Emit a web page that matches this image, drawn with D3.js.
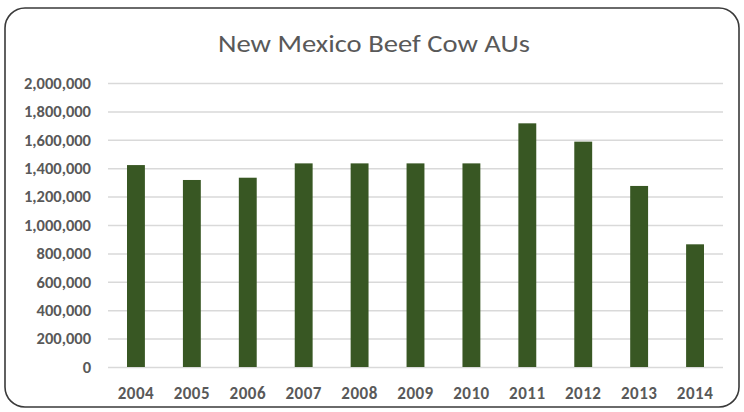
<!DOCTYPE html>
<html><head><meta charset="utf-8">
<script src="https://cdn.jsdelivr.net/npm/d3@7"></script>
<style>body{margin:0;background:#fff}svg{display:block}</style>
</head><body>
<svg id="c" width="744" height="412"></svg>
<script>
const years = ["2004","2005","2006","2007","2008","2009","2010","2011","2012","2013","2014"];
const beefCowAUs = [1422000,1317000,1333000,1434000,1434000,1434000,1434000,1716000,1587000,1275000,864000];
const yTicks = [0,200000,400000,600000,800000,1000000,1200000,1400000,1600000,1800000,2000000];
const title = "New Mexico Beef Cow AUs";

const svg = d3.select("#c");
const W = 744, H = 412;
const m = {left:108, right:21, top:83, bottom:45};
const font = "Carlito, Calibri, 'Open Sans', 'Noto Sans', sans-serif";

svg.append("rect").attr("x",5).attr("y",8).attr("width",734).attr("height",399)
  .attr("rx",20).attr("ry",20).attr("fill","#fff").attr("stroke","#3a3a3a").attr("stroke-width",1.6);

const x = d3.scaleBand().domain(years).range([m.left, W-m.right]).paddingInner(0.68).paddingOuter(0.34);
const y = d3.scaleLinear().domain([0,2000000]).range([H-m.bottom, m.top]);

const gy = svg.append("g").attr("transform",`translate(${m.left},0)`)
  .call(d3.axisLeft(y).tickValues(yTicks).tickFormat(d3.format(",")).tickSize(-(W-m.left-m.right)).tickPadding(17));
gy.select(".domain").remove();
gy.selectAll(".tick line").attr("stroke","#d9d9d9").attr("stroke-width",1.5);
gy.selectAll(".tick text").attr("fill","#595959").style("font-family",font).style("font-size","16.5px").style("font-weight","bold");

svg.append("g").selectAll("rect").data(beefCowAUs).join("rect")
  .attr("x",(d,i)=>x(years[i])).attr("width",x.bandwidth())
  .attr("y",d=>y(d)).attr("height",d=>y(0)-y(d)).attr("fill","#385723");

const gx = svg.append("g").attr("transform",`translate(0,${H-m.bottom})`)
  .call(d3.axisBottom(x).tickSize(0).tickPadding(20));
gx.select(".domain").remove();
gx.selectAll(".tick text").attr("fill","#595959").style("font-family",font).style("font-size","17px").style("font-weight","bold")
  .style("letter-spacing","0.5px");

svg.append("text").attr("x",374).attr("y",52).attr("text-anchor","middle")
  .attr("fill","#595959").style("font-family",font).style("font-size","25px")
  .attr("textLength",312).attr("lengthAdjust","spacingAndGlyphs").text(title);
</script>
</body></html>
